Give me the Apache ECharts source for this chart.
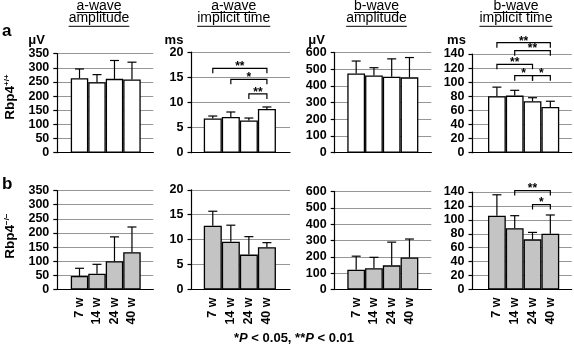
<!DOCTYPE html>
<html><head><meta charset="utf-8">
<script src="https://cdn.jsdelivr.net/npm/echarts@6/dist/echarts.min.js"></script>
<style>html,body{margin:0;padding:0;background:#fff}#c{width:574px;height:348px}</style>
</head><body><div id="c"></div>
<script>
// ---------- data ----------
const weeks = ['7 w', '14 w', '24 w', '40 w'];
const titleLine1 = ['a-wave', 'a-wave', 'b-wave', 'b-wave'];
const titleLine2 = ['amplitude', 'implicit time', 'amplitude', 'implicit time'];
const unitLabels = ['\u03bcV', 'ms', '\u03bcV', 'ms'];
const yMax = [350, 20, 600, 140];
const yStep = [50, 5, 100, 20];
const rowLetters = ['a', 'b'];
const genotypeMain = ['Rbp4', 'Rbp4'];
const genotypeSup = ['+/+', '\u2212/\u2212'];

// Rbp4+/+ (mean, SD)
const wtAAmpMean = [263, 249, 261, 259];
const wtAAmpSD = [33, 27, 65, 61];
const wtATimeMean = [6.8, 7.1, 6.4, 8.7];
const wtATimeSD = [0.5, 1.0, 0.5, 0.4];
const wtBAmpMean = [475, 463, 456, 452];
const wtBAmpSD = [75, 47, 107, 119];
const wtBTimeMean = [80, 81, 73, 65];
const wtBTimeSD = [13, 7.5, 5, 8];
// Rbp4-/- (mean, SD)
const koAAmpMean = [48, 56, 100, 132];
const koAAmpSD = [27, 33, 86, 89];
const koATimeMean = [12.8, 9.6, 7.0, 8.5];
const koATimeSD = [2.9, 3.3, 3.6, 0.9];
const koBAmpMean = [121, 130, 148, 196];
const koBAmpSD = [83, 67, 142, 113];
const koBTimeMean = [106, 88, 72, 80];
const koBTimeSD = [30, 18, 10, 27];

// significance brackets: [from bar, to bar, level, label]
const wtATimeSig = [[0, 3, 16.8, '**'], [1, 3, 14.6, '*'], [2, 3, 11.7, '**']];
const wtBTimeSig = [[0, 3, 156, '**'], [1, 3, 144.7, '**'], [0, 2, 125.4, '**'], [1, 2, 109.3, '*'], [2, 3, 109.3, '*']];
const koBTimeSig = [[1, 3, 142, '**'], [2, 3, 122, '*']];

const footParts = ['*', 'P', ' < 0.05, ', '**', 'P', ' < 0.01'];

// ---------- layout / style ----------
const FONT = '"Liberation Sans", Arial, Helvetica, sans-serif';
const colLeft = [57.3, 191.5, 334.7, 472.5];
const colRight = [153.3, 290, 431.3, 571.7];
const xMin = [-1.27, -1.18, -1.21, -1.37];
const xMax = [4.22, 4.28, 4.23, 4.2];
const rowTops = [[53.7, 52.2, 52.7, 54], [190.5, 189.8, 191.5, 192]];
const rowBottoms = [152.7, 289.5];
const barFill = ['#ffffff', '#c4c4c4'];
const titleCenters = [99, 233.7, 376.5, 516];
const unitCenters = [36.5, 174, 316.5, 456.5];

const panels = [
  [[wtAAmpMean, wtAAmpSD, null], [wtATimeMean, wtATimeSD, wtATimeSig], [wtBAmpMean, wtBAmpSD, null], [wtBTimeMean, wtBTimeSD, wtBTimeSig]],
  [[koAAmpMean, koAAmpSD, null], [koATimeMean, koATimeSD, null], [koBAmpMean, koBAmpSD, null], [koBTimeMean, koBTimeSD, koBTimeSig]]
];

const grid = [], xAxis = [], yAxis = [], series = [];
let k = 0;
for (let r = 0; r < 2; r++) {
  for (let c = 0; c < 4; c++) {
    const top = rowTops[r][c];
    grid.push({ left: colLeft[c], top: top, width: colRight[c] - colLeft[c], height: rowBottoms[r] - top, outerBoundsMode: 'none', containLabel: false });
    xAxis.push({
      gridIndex: k, type: 'value', min: xMin[c], max: xMax[c],
      axisLine: { show: true, onZero: false, lineStyle: { color: '#000', width: 1.2 } },
      axisTick: { show: false }, splitLine: { show: false },
      axisLabel: r === 1 ? {
        show: true, customValues: [0, 1, 2, 3], formatter: v => weeks[Math.round(v)] || '',
        rotate: 90, margin: 8, fontSize: 12.5, fontWeight: 'bold', color: '#000', fontFamily: FONT
      } : { show: false }
    });
    yAxis.push({
      gridIndex: k, type: 'value', min: 0, max: yMax[c], interval: yStep[c],
      axisLine: { show: true, onZero: false, lineStyle: { color: '#000', width: 1.2 } },
      axisTick: { show: true, length: 4, lineStyle: { color: '#000', width: 1.2 } },
      splitLine: { show: true, lineStyle: { color: '#969696', width: 1.2 } },
      axisLabel: { margin: 8, fontSize: 12.5, fontWeight: 'bold', color: '#000', fontFamily: FONT }
    });
    const [mean, sd, sig] = panels[r][c];
    series.push({
      type: 'bar', xAxisIndex: k, yAxisIndex: k, silent: true,
      data: mean.map((m, i) => [i, m]), barWidth: '100%', barCategoryGap: '0%',
      itemStyle: { color: barFill[r], borderColor: '#000', borderWidth: 1.3 }, z: 2
    });
    series.push({
      type: 'custom', xAxisIndex: k, yAxisIndex: k, silent: true, clip: false, z: 3,
      data: mean.map((m, i) => [i, m, m + sd[i]]),
      renderItem: (params, api) => {
        const x = api.value(0);
        const p0 = api.coord([x, api.value(1)]);
        const p1 = api.coord([x, api.value(2)]);
        const hw = 4.5;
        return { type: 'group', children: [
          { type: 'line', shape: { x1: p0[0], y1: p0[1], x2: p1[0], y2: p1[1] }, style: { stroke: '#000', lineWidth: 1.2 } },
          { type: 'line', shape: { x1: p1[0] - hw, y1: p1[1], x2: p1[0] + hw, y2: p1[1] }, style: { stroke: '#000', lineWidth: 1.2 } }
        ] };
      }
    });
    if (sig) {
      series.push({
        type: 'custom', xAxisIndex: k, yAxisIndex: k, silent: true, clip: false, z: 4,
        data: sig.map(s => [s[0], s[1], s[2]]),
        renderItem: (params, api) => {
          const a = api.coord([api.value(0), api.value(2)]);
          const b = api.coord([api.value(1), api.value(2)]);
          const drop = 5;
          return { type: 'group', children: [
            { type: 'polyline', shape: { points: [[a[0], a[1] + drop], [a[0], a[1]], [b[0], b[1]], [b[0], b[1] + drop]] },
              style: { stroke: '#000', lineWidth: 1.2, fill: null } },
            { type: 'text', style: { text: sig[params.dataIndex][3], x: (a[0] + b[0]) / 2, y: a[1] - 1.5,
              align: 'center', verticalAlign: 'middle', font: 'bold 12px ' + FONT, fill: '#000' } }
          ] };
        }
      });
    }
    k++;
  }
}

// ---------- graphic text ----------
const mctx = document.createElement('canvas').getContext('2d');
const TITLE_FONT = '14px ' + FONT;
mctx.font = TITLE_FONT;
const graphic = [];
for (let c = 0; c < 4; c++) {
  const lines = [[titleLine1[c], 6, 12.5], [titleLine2[c], 17.8, 26.3]];
  lines.forEach(([t, y, uy]) => {
    const w = mctx.measureText(t).width;
    graphic.push({ type: 'text', x: titleCenters[c], y: y, style: { text: t, align: 'center', verticalAlign: 'middle', font: TITLE_FONT, fill: '#000' } });
    graphic.push({ type: 'line', shape: { x1: titleCenters[c] - w / 2, y1: uy, x2: titleCenters[c] + w / 2, y2: uy }, style: { stroke: '#000', lineWidth: 1 } });
  });
  graphic.push({ type: 'text', x: unitCenters[c], y: 40.5, style: { text: unitLabels[c], align: 'center', verticalAlign: 'middle', font: 'bold 13px ' + FONT, fill: '#000' } });
}
const letterY = [31, 184];
const genoY = [97, 236];
for (let r = 0; r < 2; r++) {
  graphic.push({ type: 'text', x: 2, y: letterY[r], style: { text: rowLetters[r], align: 'left', verticalAlign: 'middle', font: 'bold 17px ' + FONT, fill: '#000' } });
  graphic.push({ type: 'text', x: 10, y: genoY[r], rotation: Math.PI / 2,
    style: { text: '{m|' + genotypeMain[r] + '}{s|' + genotypeSup[r] + '}', align: 'center', verticalAlign: 'middle',
      rich: { m: { fontSize: 13.5, fontWeight: 'bold', fontFamily: FONT, lineHeight: 14, fill: '#000' },
              s: { fontSize: 8, fontWeight: 'bold', fontFamily: FONT, lineHeight: 8, verticalAlign: 'top', fill: '#000' } } } });
}
graphic.push({ type: 'text', x: 294, y: 338.5,
  style: { text: '{n|' + footParts[0] + '}{i|' + footParts[1] + '}{n|' + footParts[2] + '}{n|' + footParts[3] + '}{i|' + footParts[4] + '}{n|' + footParts[5] + '}',
    align: 'center', verticalAlign: 'middle',
    rich: { n: { fontSize: 13, fontWeight: 'bold', fontFamily: FONT, fill: '#000' },
            i: { fontSize: 13, fontWeight: 'bold', fontStyle: 'italic', fontFamily: FONT, fill: '#000' } } } });

const chart = echarts.init(document.getElementById('c'), null, { renderer: 'canvas' });
chart.setOption({ animation: false, backgroundColor: '#fff', grid, xAxis, yAxis, series, graphic });
</script></body></html>
